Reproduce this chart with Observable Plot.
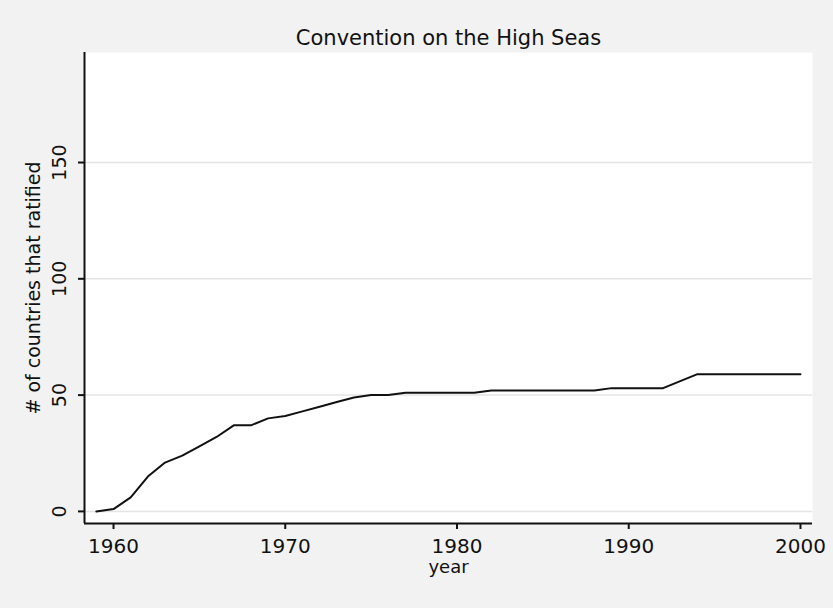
<!DOCTYPE html>
<html>
<head>
<meta charset="utf-8">
<script src="https://cdn.jsdelivr.net/npm/d3@7"></script>
<script src="https://cdn.jsdelivr.net/npm/@observablehq/plot@0.6"></script>
<style>
  html, body { margin: 0; padding: 0; background: #f2f2f2; }
  #chart svg { display: block; }
</style>
</head>
<body>
<div id="chart"></div>
<script>
const years = [1959,1960,1961,1962,1963,1964,1965,1966,1967,1968,1969,1970,1971,1972,1973,1974,1975,1976,1977,1978,1979,1980,1981,1982,1983,1984,1985,1986,1987,1988,1989,1990,1991,1992,1993,1994,1995,1996,1997,1998,1999,2000];
const ratified = [0,1,6,15,21,24,28,32,37,37,40,41,43,45,47,49,50,50,51,51,51,51,51,52,52,52,52,52,52,52,53,53,53,53,56,59,59,59,59,59,59,59];
const xTicks = [1960,1970,1980,1990,2000];
const yTicks = [0,50,100,150];
const titleText = "Convention on the High Seas";
const xLabel = "year";
const yLabel = "# of countries that ratified";

const xDomain = [1958.31, 2000.7];
const yDomain = [-5.2, 197.3];
const data = years.map((y, i) => ({year: y, n: ratified[i]}));
const font = "DejaVu Sans, sans-serif";

const chart = Plot.plot({
  width: 833,
  height: 608,
  marginLeft: 84,
  marginRight: 21,
  marginTop: 52,
  marginBottom: 85,
  style: {background: "#f2f2f2", fontFamily: font, color: "#111"},
  x: {domain: xDomain},
  y: {domain: yDomain},
  marks: [
    Plot.frame({fill: "white", stroke: "none"}),
    Plot.gridY(yTicks, {stroke: "#e4e4e4", strokeOpacity: 1, strokeWidth: 1.5}),
    // y ticks only
    Plot.axisY(yTicks, {
      anchor: "left", tickSize: 6, tickFormat: () => "",
      stroke: "#111", strokeWidth: 2, label: null
    }),
    // y tick labels, rotated
    Plot.axisY(yTicks, {
      anchor: "left", tickSize: 0, tickPadding: 25,
      rotate: -90, textAnchor: "middle", lineAnchor: "middle",
      fontSize: 19, fill: "#111", label: null
    }),
    Plot.axisX(xTicks, {
      anchor: "bottom", tickSize: 6, tickPadding: 9,
      tickFormat: d => String(d),
      fontSize: 20, stroke: "#111", strokeWidth: 2, fill: "#111", label: null
    }),
    Plot.ruleX([xDomain[0]], {stroke: "#111", strokeWidth: 2}),
    Plot.ruleY([yDomain[0]], {stroke: "#111", strokeWidth: 2}),
    Plot.lineY(data, {x: "year", y: "n", stroke: "#111", strokeWidth: 2}),
    Plot.text([titleText], {frameAnchor: "top", dy: -14, fontSize: 21, fill: "#111", lineAnchor: "middle", textAnchor: "middle"}),
    Plot.text([xLabel], {frameAnchor: "bottom", dy: 44, fontSize: 18, fill: "#111", lineAnchor: "middle", textAnchor: "middle"}),
    Plot.text([yLabel], {frameAnchor: "left", dx: -51, rotate: -90, fontSize: 19, fill: "#111", lineAnchor: "middle", textAnchor: "middle"})
  ]
});
document.getElementById("chart").appendChild(chart);
</script>
</body>
</html>
